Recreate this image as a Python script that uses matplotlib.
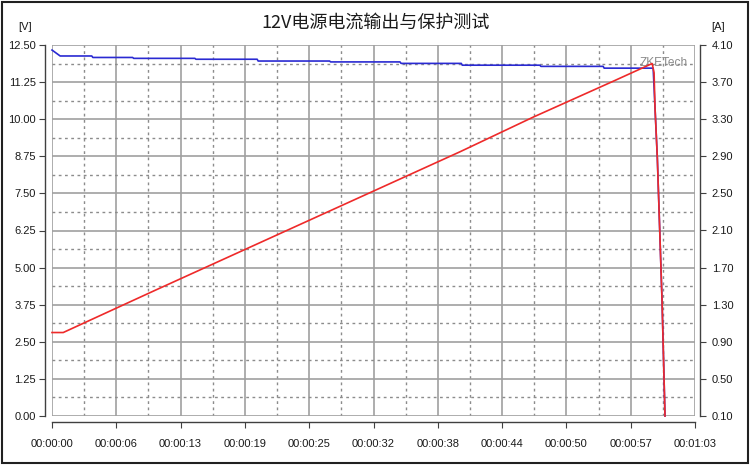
import numpy as np
import matplotlib
matplotlib.use('Agg')
import matplotlib.pyplot as plt
from matplotlib.patches import Rectangle

# Data (time in seconds)
volt_t = [0.0, 0.8, 3.9, 4.0, 7.9, 8.0, 14.0, 14.1, 20.1, 20.2, 27.2, 27.3, 34.1, 34.2,
          40.1, 40.2, 47.8, 47.9, 54.0, 54.1, 58.9, 59.08, 59.31, 59.77, 60.06]
volt_v = [12.33, 12.13, 12.13, 12.08, 12.08, 12.05, 12.05, 12.02, 12.02, 11.96, 11.96, 11.93,
          11.93, 11.88, 11.88, 11.82, 11.82, 11.78, 11.78, 11.72, 11.72, 10.4, 8.69, 3.9, 0.0]

curr_t = [0.0, 1.1, 10.0, 20.0, 30.0, 40.0, 47.1, 55.0, 58.8, 58.99, 59.08, 59.31, 59.77, 60.06]
curr_a = [1.0, 1.0, 1.45, 1.95, 2.45, 2.95, 3.32, 3.71, 3.90, 3.80, 3.43, 2.88, 1.35, 0.10]

x_ticks = [0, 6.3, 12.6, 18.9, 25.2, 31.5, 37.8, 44.1, 50.4, 56.7, 63.0]
x_labels = ['00:00:00', '00:00:06', '00:00:13', '00:00:19', '00:00:25', '00:00:32',
            '00:00:38', '00:00:44', '00:00:50', '00:00:57', '00:01:03']
v_ticks = [0.0, 1.25, 2.5, 3.75, 5.0, 6.25, 7.5, 8.75, 10.0, 11.25, 12.5]
a_ticks = [0.10, 0.50, 0.90, 1.30, 1.70, 2.10, 2.50, 2.90, 3.30, 3.70, 4.10]

title = '12V电源电流输出与保护测试'

plt.rcParams['font.family'] = ['Liberation Sans', 'DejaVu Sans']

fig = plt.figure(figsize=(7.5, 4.67), dpi=100)
fig.patch.set_facecolor('white')
ax = fig.add_axes([52/750, 1-416/467, 643/750, 371/467])
ax2 = ax.twinx()

# grid
ax.set_xlim(0, 63)
ax.set_ylim(0, 12.5)
ax2.set_ylim(0.1, 4.1)
ax.set_xticks(x_ticks)
ax.set_xticklabels(x_labels)
ax.set_xticks([t + 3.15 for t in x_ticks[:-1]], minor=True)
ax.set_yticks(v_ticks)
ax.set_yticklabels(['%.2f' % v for v in v_ticks])
ax.set_yticks([v + 0.625 for v in v_ticks[:-1]], minor=True)
ax2.set_yticks(a_ticks)
ax2.set_yticklabels(['%.2f' % a for a in a_ticks])
ax2.set_yticks([], minor=True)

ax.grid(which='major', color='#a0a0a0', lw=1.2, ls='-')
ax.grid(which='minor', color='#8c8c8c', lw=1.0, ls=(0, (2, 2.5)))
ax.set_axisbelow(True)

for s in ['top', 'right']:
    ax.spines[s].set_visible(False)
for s in ['top', 'left', 'bottom']:
    ax2.spines[s].set_visible(False)
ax.spines['left'].set_position(('outward', 5))
ax.spines['bottom'].set_position(('outward', 4.3))
ax2.spines['right'].set_position(('outward', 3.6))
for sp in [ax.spines['left'], ax.spines['bottom'], ax2.spines['right']]:
    sp.set_color('#404040')
    sp.set_linewidth(1.0)

ax.tick_params(axis='y', which='major', length=4.5, color='#404040', labelsize=8, pad=2, labelcolor='#1a1a1a')
ax.tick_params(axis='x', which='major', length=4.5, color='#404040', labelsize=8, pad=8, labelcolor='#1a1a1a')
ax.tick_params(which='minor', length=0)
ax2.tick_params(axis='y', which='major', length=4.5, color='#404040', labelsize=8, pad=4, labelcolor='#1a1a1a')

# watermark
ax.text(0.989, 0.952, 'ZKETech', transform=ax.transAxes, ha='right', va='center',
        fontsize=8.6, color='#8a8a8a', zorder=1)

ax.plot(volt_t, volt_v, color='#2a2ad2', lw=1.2, zorder=3, clip_on=False)
ax2.plot(curr_t, curr_a, color='#ee2a2a', lw=1.2, zorder=3, clip_on=False)

# titles and units
fig.text(376/750, 1-23/467, title, ha='center', va='center', fontsize=13,
         family=['Noto Sans CJK SC', 'DejaVu Sans'], color='#1a1a1a')
fig.text(25/750, 1-27/467, '[V]', ha='center', va='center', fontsize=8, color='#1a1a1a')
fig.text(718/750, 1-27/467, '[A]', ha='center', va='center', fontsize=8, color='#1a1a1a')

# outer frame
fig.patches.append(Rectangle((2/750, 4/467), 746/750, 461/467, transform=fig.transFigure,
                             fill=False, edgecolor='#202020', lw=1.5))

fig.savefig('out.png', dpi=100)
